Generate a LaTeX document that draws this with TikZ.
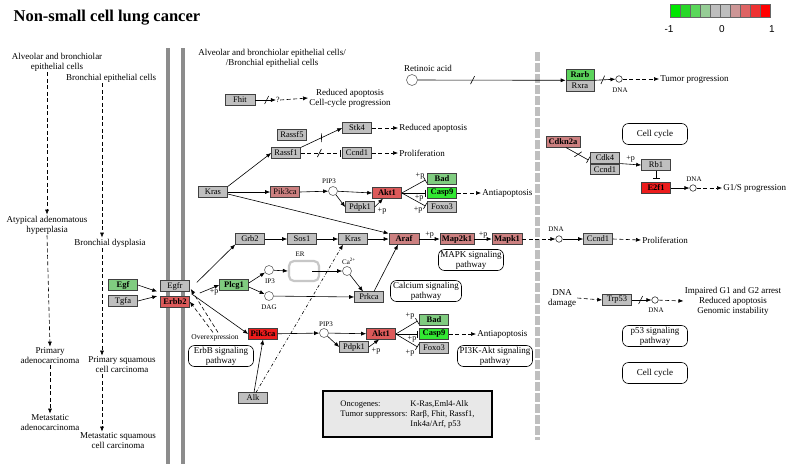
\documentclass[tikz,border=0pt]{standalone}
\usepackage{fontspec}
\setmainfont{Liberation Serif}
\newfontfamily\arialfont{Liberation Sans}
\usetikzlibrary{positioning,arrows.meta,decorations.markings}
\definecolor{kgray}{RGB}{191,191,191}
\definecolor{upred}{RGB}{236,28,28}
\definecolor{midred}{RGB}{220,90,90}
\definecolor{lightred}{RGB}{204,128,128}
\definecolor{brightgreen}{RGB}{50,232,50}
\definecolor{midgreen}{RGB}{92,212,92}
\definecolor{lightgreen}{RGB}{128,204,128}
\newcommand\genefont{\fontsize{8.5}{9}\selectfont}
\newcommand\txtfont{\fontsize{9}{10}\selectfont}
\newcommand\smfont{\fontsize{7}{8}\selectfont}
\newcommand\pfont{\fontsize{8}{9}\selectfont}

\begin{document}
\begin{tikzpicture}[x=1pt,y=-1pt,>={Latex[length=5pt,width=4pt]},semithick,
    gene/.style={draw=black!75,fill=kgray,minimum width=29pt,minimum height=10.5pt,inner sep=0pt,font=\genefont},
    hit/.style={gene,fill=#1,font=\genefont\bfseries},
    txt/.style={align=center,font=\txtfont,inner sep=1pt},
    lbl/.style={font=\smfont,inner sep=0pt},
    plus/.style={font=\pfont,inner sep=0pt},
    cpd/.style={circle,draw=black!60,fill=white,minimum size=9pt,inner sep=0pt},
    dna/.style={circle,draw=black!80,fill=white,minimum size=6.5pt,inner sep=0pt},
    mapbox/.style={draw,rounded corners=6pt,align=center,font=\txtfont,minimum width=65pt,minimum height=21pt,inner sep=1pt},
    inhib/.style={-{Bar[width=7pt]},shorten >=2pt},
    kdash/.style={dash pattern=on 4pt off 2.5pt},
    broken/.style={postaction={decorate},decoration={markings,mark=at position #1 with {\draw[solid,-,shorten >=0pt] (-2pt,-4pt) -- (2pt,4pt);}}},
    broken/.default=0.5]
  \fill[white] (0,0) rectangle (792,464);
  \useasboundingbox (0,0) rectangle (792,464);

  \node[anchor=west,font=\fontsize{16.5}{18}\selectfont\bfseries] (title) at (10,18) {Non-small cell lung cancer};
  \foreach \c [count=\i] in {{0,230,0},{40,215,40},{90,215,90},{150,205,150},{190,190,190},{190,190,190},{205,150,150},{222,100,100},{238,50,50},{255,0,0}}
    {\definecolor{cb}{RGB}{\c}\filldraw[fill=cb,draw=black!60,thin] ({660+10*\i},4) rectangle ({670+10*\i},17);}
  \node[font=\arialfont\fontsize{10}{12}\selectfont] (cbmin) at (669,29) {-1};
  \node[font=\arialfont\fontsize{10}{12}\selectfont] (cbmid) at (722,29) {0};
  \node[font=\arialfont\fontsize{10}{12}\selectfont] (cbmax) at (772,29) {1};

  \draw[line width=3.5pt,black!45] (168,48) -- (168,464);
  \draw[line width=3.5pt,black!45] (183,48) -- (183,464);
  \draw[line width=5pt,black!25,dash pattern=on 9pt off 2pt] (537,52) -- (537,440);

  \node[txt] (alv) at (57,62) {Alveolar and bronchiolar\\epithelial cells};
  \node[txt] (bron) at (111,78) {Bronchial epithelial cells};
  \node[txt] (aah) at (47,225) {Atypical adenomatous\\hyperplasia};
  \node[txt] (bdys) at (110,243) {Bronchial dysplasia};
  \node[txt] (padc) at (50,356) {Primary\\adenocarcinoma};
  \node[txt] (madc) at (50,423) {Metastatic\\adenocarcinoma};
  \node[txt] (psq) at (122,365) {Primary squamous\\cell carcinoma};
  \node[txt] (msq) at (118,441) {Metastatic squamous\\cell carcinoma};
  \draw[kdash,->] (alv.south -| aah.north) -- (aah.north);
  \draw[kdash,->] ([shift={(-9,0)}]bron.south) -- ([shift={(-8,0)}]bdys.north);
  \draw[kdash,->] (aah.south) -- (padc.north);
  \draw[kdash,->] (padc.south) -- (madc.north);
  \draw[kdash,->] ([shift={(-8,0)}]bdys.south) -- ([shift={(-20,0)}]psq.north);
  \draw[kdash,->] ([shift={(-20,0)}]psq.south) -- ([shift={(-16,0)}]msq.north);

  \node[txt] (hdr) at (272,58) {Alveolar and bronchiolar epithelial cells/\\/Bronchial epithelial cells};

  \node[gene,minimum width=30pt] (fhit) at (240,100) {Fhit};
  \node[plus] (qm) at (278,100) {?};
  \node[txt] (fhitout) at (350,98) {Reduced apoptosis\\Cell-cycle progression};
  \draw[->,broken=0.55] (fhit.east) -- (qm.west);
  \draw[kdash,->] (qm.east) -- (fhitout.west);

  \node[gene] (rassf5) at (292,135) {Rassf5};
  \node[gene] (rassf1) at (286,153) {Rassf1};
  \node[gene] (stk4) at (357,128) {Stk4};
  \node[gene] (ccnd1a) at (357,153) {Ccnd1};
  \node[txt,anchor=west] (redap) at (398,128) {Reduced apoptosis};
  \node[txt,anchor=west] (prolif1) at (398,153) {Proliferation};
  \draw[->,broken] (rassf1.north east) -- (stk4.west);
  \draw[kdash,inhib,broken=0.45] (rassf1.east) -- (ccnd1a.west);
  \draw[kdash,->] (stk4.east) -- (redap.west);
  \draw[kdash,->] (ccnd1a.east) -- (prolif1.west);

  \node[gene] (kras1) at (213,192) {Kras};
  \node[hit=lightred,font=\genefont] (pik3ca1) at (285,192) {Pik3ca};
  \node[cpd] (pip3a) at (333,191) {};
  \node[lbl] (pip3alb) at (329,181) {PIP3};
  \node[hit=midred] (akt1a) at (387,193) {Akt1};
  \node[gene] (pdpk1a) at (360,207) {Pdpk1};
  \node[hit=lightgreen] (bad1) at (442,179) {Bad};
  \node[hit=brightgreen] (casp1) at (442,193) {Casp9};
  \node[gene] (foxo1) at (442,207) {Foxo3};
  \node[txt,anchor=west] (anti1) at (481,193) {Antiapoptosis};
  \draw[->] (kras1.north east) -- (rassf1.west);
  \draw[->] (kras1.east) -- (pik3ca1.west);
  \draw[->] (pik3ca1.east) -- (pip3a);
  \draw[->] (pip3a) -- (akt1a.west);
  \draw[->] (pip3a) -- (pdpk1a.west);
  \draw[->] (pdpk1a.east) -- ([shift={(-4,0)}]akt1a.south);
  \node[plus] (pa1) at (382,211) {+p};
  \foreach \t in {bad1,casp1,foxo1} \draw[inhib] (akt1a.east) -- (\t.west);
  \node[plus] (pb1) at (420,176) {+p};
  \node[plus] (pc1) at (419,198) {+p};
  \node[plus] (pd1) at (418,210) {+p};
  \draw[kdash,->] (casp1.east) -- (anti1.west);

  \node[gene] (grb2) at (250,239) {Grb2};
  \node[gene] (sos1) at (302,239) {Sos1};
  \node[gene] (kras2) at (353,239) {Kras};
  \node[hit=lightred,minimum width=30pt] (araf) at (404,239) {Araf};
  \node[hit=lightred,minimum width=34pt] (map2k1) at (457,239) {Map2k1};
  \node[hit=lightred,minimum width=30pt] (mapk1) at (507,239) {Mapk1};
  \node[dna] (dna2) at (559,239) {};
  \node[lbl] (dna2lb) at (556,229) {DNA};
  \node[gene] (ccnd1b) at (598,239) {Ccnd1};
  \node[txt,anchor=west] (prolif2) at (641,240) {Proliferation};
  \draw[->] ([shift={(0,2)}]kras1.east) -- (araf.north west);
  \draw[->] (grb2) -- (sos1);
  \draw[->] (sos1) -- (kras2);
  \draw[->] (kras2) -- (araf);
  \draw[->] (araf) -- node[plus,above=1pt] (pe) {+p} (map2k1);
  \draw[->] (map2k1) -- node[plus,above=1pt] (pf) {+p} (mapk1);
  \draw[kdash,->] (mapk1.east) -- (dna2);
  \draw[->] (dna2) -- (ccnd1b);
  \draw[kdash,->] (ccnd1b.east) -- (prolif2.west);
  \node[mapbox] (mapk) at (471,260) {MAPK signaling\\pathway};

  \node[hit=lightgreen] (egf) at (123,285) {Egf};
  \node[gene] (tgfa) at (123,301) {Tgfa};
  \node[gene] (egfr) at (175,286) {Egfr};
  \node[hit=midred] (erbb2) [below=4.5pt of egfr] {Erbb2};
  \draw[->] (egf.east) -- ([shift={(-3,0)}]egfr.south west);
  \draw[->] (tgfa.east) -- ([shift={(-3,0)}]erbb2.north west);
  \node[hit=lightgreen] (plcg1) at (234,285) {Plcg1};
  \node[cpd] (ip3) at (269,270) {};
  \node[lbl] (ip3lb) at (270,281) {IP3};
  \node[cpd] (dag) at (269,296) {};
  \node[lbl] (daglb) at (269,307) {DAG};
  \node[draw=black!22,line width=2.2pt,rounded corners=5pt,minimum width=30pt,minimum height=20pt] (er) at (304,271) {};
  \node[lbl] (erlb) at (300,254) {ER};
  \node[cpd] (ca) at (347,271) {};
  \node[lbl] (calb) at (349,261) {Ca\textsuperscript{2+}};
  \node[gene] (prkca) at (369,297) {Prkca};
  \node[mapbox,minimum width=71pt] (calc) at (426,291) {Calcium signaling\\pathway};
  \draw[->] ([shift={(7,2)}]egfr.north east) -- (grb2.south west);
  \draw[->] ([shift={(10,7)}]egfr.east) -- node[plus,below right=0pt] (pg) {+p} (plcg1.west);
  \draw[->] ([shift={(0,-2)}]plcg1.east) -- (ip3);
  \draw[->] ([shift={(0,2)}]plcg1.east) -- (dag);
  \draw[->] (ip3) -- (er.west);
  \draw[->] ([shift={(8,0)}]er.center) -- (ca);
  \draw[->] (ca) -- ([shift={(-6,0)}]prkca.north);
  \draw[->] (dag) -- (prkca.west);
  \draw[->] ([shift={(5,0)}]prkca.north) -- ([shift={(-6,0)}]araf.south);

  \node[hit=upred] (pik3ca2) at (263,334) {Pik3ca};
  \node[cpd] (pip3b) at (324,333) {};
  \node[lbl] (pip3blb) at (326,324) {PIP3};
  \node[hit=midred] (akt1b) at (381,334) {Akt1};
  \node[gene] (pdpk1b) at (354,347) {Pdpk1};
  \node[hit=lightgreen] (bad2) at (434,320) {Bad};
  \node[hit=brightgreen] (casp2) at (434,334) {Casp9};
  \node[gene] (foxo2) at (434,348) {Foxo3};
  \node[txt,anchor=west] (anti2) at (476,334) {Antiapoptosis};
  \node[mapbox,minimum width=75pt] (pi3k) at (495,356) {PI3K-Akt signaling\\pathway};
  \draw[->] ([shift={(2,8)}]egfr.east) -- (pik3ca2.west);
  \draw[->] (pik3ca2) -- (pip3b);
  \draw[->] (pip3b) -- (akt1b);
  \draw[->] (pip3b) -- (pdpk1b.west);
  \draw[->] (pdpk1b.east) -- ([shift={(-2,0)}]akt1b.south);
  \node[plus] (ph) at (376,351) {+p};
  \foreach \t in {bad2,casp2,foxo2} \draw[inhib] (akt1b.east) -- (\t.west);
  \node[plus] (pi) at (410,316) {+p};
  \node[plus] (pj) at (412,339) {+p};
  \node[plus] (pk) at (410,353) {+p};
  \draw[kdash,->] (casp2.east) -- (anti2.west);

  \node[font=\fontsize{7.5}{8}\selectfont,inner sep=1pt] (ovx) at (215,338) {Overexpression};
  \draw[kdash,->] ([shift={(3,-1)}]ovx.north) -- ([shift={(1,3)}]egfr.east);
  \draw[kdash,->] ([shift={(-2,-1)}]ovx.north) -- (erbb2.east);
  \node[mapbox] (erbb) at (221,356) {ErbB signaling\\pathway};

  \node[gene] (alk) at (253,398) {Alk};
  \draw[->] ([shift={(1,0)}]alk.north) -- (pik3ca2.south);
  \draw[->,dash dot] ([shift={(3,0)}]alk.north) -- ([shift={(-10,0)}]kras2.south);

  \node[draw,line width=1.6pt,fill=black!9,minimum width=169pt,minimum height=46pt,font=\fontsize{8.5}{10}\selectfont] (legend) at (407.5,414)
    {\begin{tabular}{@{}l@{\hspace{3pt}}l@{}}Oncogenes: & K-Ras,Eml4-Alk\\Tumor suppressors: & Rarβ, Fhit, Rassf1,\\ & Ink4a/Arf, p53\end{tabular}};

  \node[cpd,minimum size=11pt] (ra) at (412,80) {};
  \node[txt] (ralb) at (428,68) {Retinoic acid};
  \node[hit=midgreen,minimum width=28pt,minimum height=11pt] (rarb) at (580,74.5) {Rarb};
  \node[gene,minimum width=28pt,minimum height=11pt] (rxra) [below=0pt of rarb] {Rxra};
  \node[dna] (dna0) at (619,79) {};
  \node[lbl] (dna0lb) at (620,90) {DNA};
  \node[txt,anchor=west] (tumor) at (659,79) {Tumor progression};
  \draw[->,broken=0.37] (ra) -- (rarb.south west);
  \draw[->,broken=0.4] (rarb.south east) -- (dna0);
  \draw[kdash,->] (dna0) -- (tumor.west);

  \node[mapbox] (cc1) at (655,134) {Cell cycle};
  \node[hit=lightred,minimum width=34pt] (cdkn2a) at (563,142) {Cdkn2a};
  \node[gene] (cdk4) at (605,158) {Cdk4};
  \node[gene] (ccnd1c) [below=0pt of cdk4] {Ccnd1};
  \node[gene] (rb1) at (656,165) {Rb1};
  \node[hit=upred] (e2f1) at (656,188) {E2f1};
  \node[dna] (dna1) at (693,188) {};
  \node[lbl] (dna1lb) at (694,179) {DNA};
  \node[txt,anchor=west] (g1s) at (722,188) {G1/S progression};
  \draw[inhib,broken] ([shift={(3,0)}]cdkn2a.south) -- ([shift={(0,3)}]cdk4.west);
  \draw[->] (cdk4.south east) -- node[plus,above=2pt] (pl) {+p} (rb1.west);
  \draw[inhib,shorten >=4pt] (rb1.south) -- (e2f1.north);
  \draw[->] (e2f1.east) -- (dna1);
  \draw[kdash,->] (dna1) -- (g1s.west);

  \node[txt] (dmg) at (562,298) {DNA\\damage};
  \node[gene] (trp53) at (617,300) {Trp53};
  \node[dna] (dna3) at (655,300) {};
  \node[lbl] (dna3lb) at (656,310) {DNA};
  \node[txt] (impair) at (733,301) {Impaired G1 and G2 arrest\\Reduced apoptosis\\Genomic instability};
  \draw[kdash,->] (dmg.east) -- (trp53.west);
  \draw[->,broken=0.45] (trp53.east) -- (dna3);
  \draw[kdash,->] (dna3) -- (impair.west);
  \node[mapbox] (p53) at (655,336) {p53 signaling\\pathway};
  \node[mapbox] (cc2) at (655,373) {Cell cycle};
\end{tikzpicture}
\end{document}
